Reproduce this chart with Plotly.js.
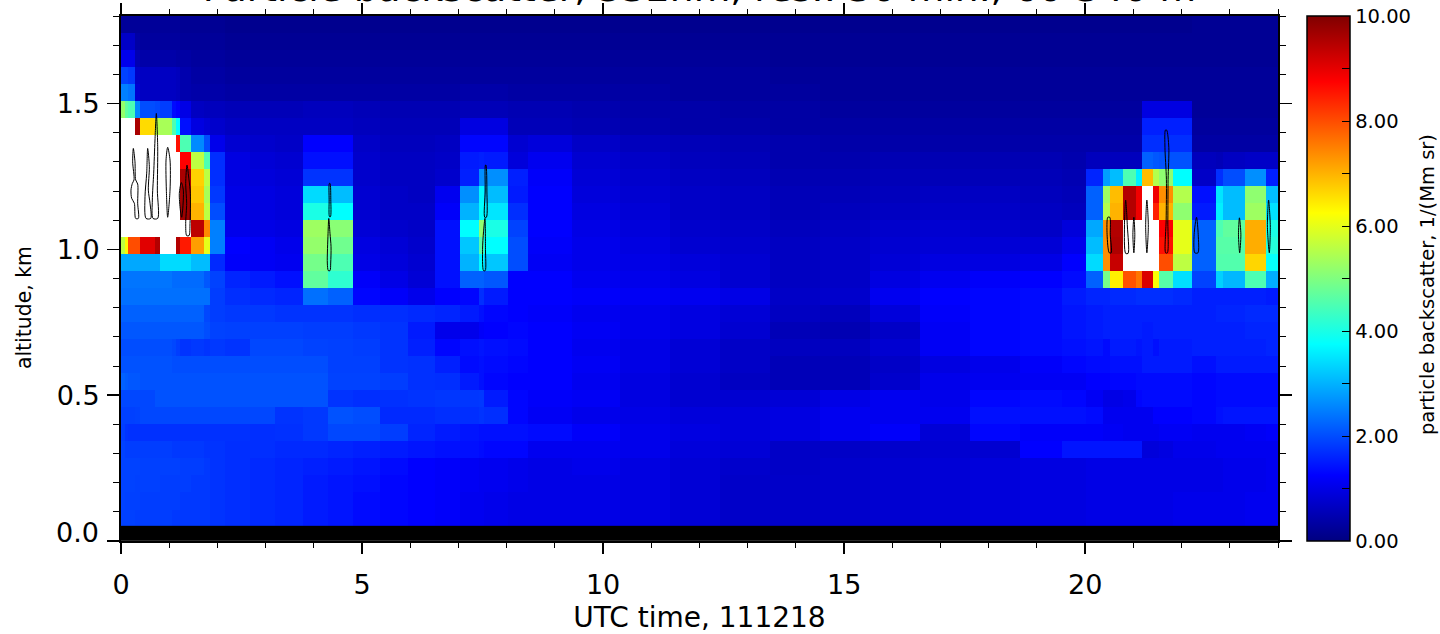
<!DOCTYPE html>
<html><head><meta charset="utf-8">
<script src="https://cdn.plot.ly/plotly-3.0.1.min.js"></script>
<style>html,body{margin:0;padding:0;background:#fff}#chart{width:1440px;height:634px}</style>
</head><body><div id="chart"></div>
<script>
var chartTitle = "Particle backscatter, 532nm, res.: 30 min., 60-340 m";
var xTitle = "UTC time, 111218";
var yTitle = "altitude, km";
var barTitle = "particle backscatter, 1/(Mm sr)";

// cell edges, UTC hours
var timeEdges = [0,.08,.15,.29,.39,.71,.81,1.06,1.14,1.22,1.45,1.72,1.85,2.16,2.68,3.2,3.78,4.29,4.81,5.37,5.95,6.51,7.03,7.43,7.53,8.03,8.44,9.36,10.35,11.39,12.43,13.46,14.5,15.54,16.58,17.61,18.65,19.52,20.02,20.37,20.52,20.79,21.06,21.18,21.41,21.54,21.83,22.22,22.72,22.86,23.32,23.76,24];
// cell edges, km
var altitudeEdges = [.05,.108,.167,.225,.283,.342,.4,.458,.517,.575,.633,.692,.75,.808,.867,.925,.983,1.042,1.1,1.158,1.217,1.275,1.333,1.392,1.45,1.508,1.567,1.625,1.683,1.742,1.8];
var n = null; // above colour range, drawn white

// one row per altitude, highest first; 52 values per row
var backscatterTopDown = [
[.25,.25,.25,.25,.25,.25,.25,.25,.25,.2,.2,.2,.2, .15,.15,.15,.15,.15,.15,.15,.15,.15,.15,.15,.15,.15,.15,.15,.15,.15,.15,.15,.15,.15,.15,.15,.15,.15, .15,.15,.15,.15,.15,.15,.15,.15,.15,.2,.2,.2,.2,.2],
[.7,.7,.7,.35,.3,.3,.3,.3,.3,.25,.25,.25,.25, .2,.2,.2,.2,.2,.2,.2,.2,.2,.2,.2,.2,.2,.2,.2,.2,.2,.2,.2,.2,.2,.2,.2,.2,.2, .2,.2,.2,.2,.2,.2,.2,.2,.2,.2,.2,.2,.2,.2],
[1.05,1.05,1.05,.5,.4,.4,.4,.4,.35,.35,.3,.3,.3, .25,.25,.25,.25,.25,.25,.25,.25,.25,.25,.25,.25,.25,.25,.25,.25,.25,.25,.2,.2,.2,.2,.2,.2,.2, .2,.2,.2,.2,.2,.2,.2,.2,.2,.2,.2,.2,.2,.2],
[1.9,1.9,1.8,.7,.65,.65,.65,.65,.6,.45,.35,.35,.35, .3,.3,.3,.3,.3,.3,.3,.3,.3,.3,.3,.3,.3,.3,.3,.3,.3,.3,.25,.25,.25,.25,.25,.25,.25, .25,.25,.25,.25,.25,.25,.25,.25,.25,.25,.25,.25,.25,.25],
[2.5,2.5,2.4,.8,.65,.65,.65,.65,.6,.45,.4,.4,.4, .35,.35,.35,.35,.35,.35,.35,.35,.35,.4,.4,.4,.35,.35,.35,.35,.3,.3,.3,.25,.25,.25,.25,.25,.25, .25,.25,.25,.25,.25,.25,.25,.25,.25,.25,.25,.25,.25,.25],
[5.2,4.7,4.5,2.6,2,1.95,1.85,1.35,1.25,1,.65,.6,.6, .55,.55,.55,.6,.6,.55,.5,.5,.5,.55,.55,.55,.5,.5,.45,.4,.4,.35,.35,.3,.3,.3,.3,.3,.3, .3,.3,.3,.3,.3,.95,.95,.95,.95,.25,.25,.25,.25,.25],
[n,n,n,9.6,6.6,5.5,5.4,4.5,3.75,1.4,.95,.85,.75, .65,.65,.65,.65,.65,.6,.55,.55,.55,.95,.95,.95,.55,.55,.5,.45,.4,.4,.35,.35,.35,.35,.35,.35,.35, .35,.35,.35,.35,.35,1.55,1.55,1.55,1.55,.3,.3,.3,.3,.3],
[n,n,n,n,n,n,n,n,8.6,4.5,2.6,2,1.05, .8,.75,.7,1.25,1.25,.7,.6,.6,.65,1.3,1.3,1.3,.8,.9,.7,.6,.55,.5,.45,.4,.4,.4,.4,.4,.4, .4,.4,.4,.4,.4,1.7,1.7,1.7,1.7,.35,.35,.35,.35,.35],
[n,n,n,n,n,n,n,n,n,8.75,5.6,4.5,1.7, .95,.85,.8,1.4,1.4,.75,.65,.65,.7,1.5,1.55,1.5,.9,1.1,.8,.7,.6,.55,.45,.45,.5,.5,.5,.5,.45, .6,.6,.6,.6,.6,2.2,2.1,2.05,2.05,.6,.55,.65,.7,.7],
[n,n,n,n,n,n,n,n,n,9.6,6.7,5.6,1.7, .95,.9,.85,1.75,1.75,.75,.65,.65,.75,1.55,2.65,2.65,1.55,1.2,.85,.75,.65,.6,.5,.5,.55,.55,.55,.55,.5, 1.6,2.8,3.1,4.5,3.6,6.9,5.5,5.15,3.75,.7,1.7,2,2.65,1.55],
[n,n,n,n,n,n,n,n,n,9.7,6.8,5.4,1.8, 1,.95,.9,3.4,3.1,.8,.7,.65,1.1,2.65,3.7,3.1,1.5,1.25,.9,.8,.7,.65,.55,.55,.6,.65,.65,.6,.55, 2.2,5.3,6.9,9.5,8.9,n,8.9,7.35,5.5,1.4,3.5,3.1,5.15,3.1],
[n,n,n,n,n,n,n,n,n,9.7,7,5.6,2, 1,.95,.9,4,3.75,.8,.7,.7,1.2,3,3.75,3.5,1.7,1.25,.95,.85,.7,.65,.55,.6,.65,.7,.7,.65,.6, 2.2,5.5,7,9.5,8.9,n,8.45,7,5.15,1.5,3.6,3.1,5.3,3.45],
[n,n,n,n,n,n,n,n,n,n,9.4,7.4,2.5, 1.05,1,.95,5.3,5.1,.85,.75,.7,1.4,3.75,5.15,4,1.9,1.25,1,.9,.75,.7,.6,.65,.75,.8,.75,.7,.9, 2.9,7.35,9.5,n,n,n,n,8.75,6,2.2,4.5,4.7,7.05,4],
[5.6,6.3,8,8,9.05,9.5,n,n,9.5,8.5,7.2,6,2.5, 1.25,1.15,1.05,5.2,4.85,.95,.85,.75,1.4,3.2,4.6,3.75,2,1.2,1.05,.95,.8,.75,.65,.7,.8,.85,.85,.85,1.05, 3.1,7.35,9.55,n,n,n,n,8.6,6,2.2,4.6,4.6,7.05,4.1],
[2.9,2.9,2.9,2.9,2.9,2.9,3.4,3.4,3.4,3.4,3.1,3.1,1.65, 1.2,1.15,1.1,4.9,4.5,1,.9,.8,1.4,3,3.75,3.2,2,1.15,1.05,1,.9,.8,.65,.7,.85,.95,.95,1,1.25, 3.4,7.35,9.3,n,n,n,n,8,5.6,2.2,4.55,4.55,6.65,3.8],
[2.4,2.4,2.4,2.4,2.4,2.4,2.4,2.3,2.3,2.3,2.3,2.1,1.9, 1.6,1.5,1.4,4.7,4.2,1.2,1,.85,1.4,2.2,2.2,2.1,1.25,1.25,1.1,1.05,.95,.8,.65,.7,.95,1.1,1.2,1.25,1.35, 2.2,4.9,6.4,7.95,7.6,9.1,6.2,4.6,3.45,1.9,3.3,3.05,4.5,2.95],
[2.35,2.35,2.35,2.35,2.35,2.35,2.35,2.35,2.35,2.35,2.35,2.35,1.85, 1.7,1.65,1.6,2.35,2.2,1.3,1.2,1.05,1.25,1.3,1.7,1.5,1.25,1.25,1.2,1.15,1.1,1,.7,.75,1.1,1.25,1.3,1.35,1.5, 1.6,1.6,1.65,1.65,1.7,1.7,1.7,1.7,1.65,1.55,1.55,1.55,1.55,1.5],
[2.2,2.2,2.2,2.2,2.2,2.2,2.2,2.2,2.2,2.2,2.2,1.95,1.85, 1.8,1.8,1.75,1.75,1.75,1.7,1.7,1.65,1.6,1.5,1.4,1.3,1.25,1.2,1.1,1.05,.95,.85,.65,.6,.9,1.2,1.3,1.35,1.45, 1.5,1.55,1.55,1.55,1.55,1.55,1.55,1.55,1.55,1.55,1.6,1.6,1.65,1.65],
[2.1,2.1,2.1,2.1,2.1,2.1,2.1,2.1,2.1,2.1,2.1,2,1.9, 1.88,1.88,1.88,1.85,1.85,1.8,1.75,1.5,1.05,1.05,1.2,1.25,1.3,1.25,1.15,1.05,.95,.8,.55,.5,.7,1.15,1.3,1.35,1.45, 1.5,1.55,1.55,1.55,1.55,1.5,1.55,1.55,1.55,1.55,1.55,1.55,1.6,1.6],
[2,2,2,2,2,2,2,1.95,1.85,1.75,1.8,1.75,1.8, 1.75,1.95,1.95,1.9,1.88,1.85,1.75,1.55,1.3,1.4,1.45,1.4,1.35,1.25,1.1,1,.85,.7,.63,.62,.8,1.15,1.3,1.35,1.4, 1.45,1.35,1.5,1.5,1.45,1.5,1.4,1.5,1.5,1.55,1.55,1.55,1.55,1.6],
[2.05,2.05,2.05,2.05,2.05,2.05,2.05,2,2,2,2,2,2, 2,2,2,2,1.88,1.88,1.75,1.72,1.55,1.35,1.4,1.35,1.3,1.25,1.15,1,.85,.7,.55,.55,.7,.95,1.05,1.2,1.3, 1.35,1.35,1.4,1.4,1.4,1.5,1.5,1.5,1.5,1.4,1.5,1.5,1.5,1.5],
[2.2,2.15,2.1,2.1,2.05,2.05,2.05,2.05,2.05,2.05,2.05,2.05,2.05, 2.05,2.05,2.05,2.05,1.9,1.9,1.85,1.72,1.7,1.5,1.4,1.3,1.25,1.25,1.1,.95,.8,.65,.55,.55,.75,1.05,1.1,1.15,1.15, 1.25,1.25,1.3,1.3,1.35,1.35,1.35,1.35,1.35,1.3,1.35,1.35,1.35,1.35],
[1.95,1.95,1.95,1.95,1.95,2.05,2.05,2.05,2.05,2.05,2.05,2.05,2.05, 2.05,2.05,2.05,2.05,1.75,1.7,1.72,1.75,1.78,1.78,1.8,1.5,1.3,1.2,1.15,.95,.8,.8,.85,1,1.1,1.05,1.3,1.35,1.3, 1.15,1,1,1.05,1.3,1.35,1.35,1.35,1.35,1.3,1.35,1.35,1.35,1.35],
[1.88,1.88,1.88,1.9,1.95,1.95,1.95,1.95,1.95,1.95,1.95,1.95,1.95, 1.95,1.95,1.75,1.8,2.05,2,1.65,1.65,1.7,1.7,1.75,1.7,1.3,1.15,1.05,1,.9,.9,.95,1.1,1.1,1.1,1.4,1.4,1.4, 1.35,1.1,1.1,1.1,1.1,1.1,1.25,1.25,1.25,1.3,1.4,1.45,1.45,1.45],
[1.85,1.75,1.72,1.72,1.72,1.72,1.72,1.72,1.72,1.72,1.72,1.72,1.72, 1.72,1.7,1.72,1.8,1.95,1.95,1.85,1.6,1.5,1.45,1.4,1.4,1.4,1.35,1.2,1.05,.95,.9,.95,1.1,1.2,.85,1.3,1.2,1.2, 1.2,1.15,1.15,1.1,1.1,1.1,1.1,1.15,1.15,1.1,1.1,1.1,1.15,1.2],
[1.9,1.85,1.85,1.85,1.85,1.85,1.85,1.8,1.8,1.8,1.8,1.75,1.75, 1.7,1.7,1.65,1.65,1.6,1.55,1.5,1.45,1.4,1.4,1.35,1.3,1.3,1.1,1.1,1.05,.9,.85,.7,.7,.75,.8,.8,1.25,1.45, 1.45,1.45,1.45,1.45,1.45,.9,.9,.95,1.05,1.05,1.1,1.1,1.1,1.1],
[1.9,1.9,1.9,1.9,1.88,1.88,1.88,1.88,1.88,1.85,1.85,1.8,1.75, 1.7,1.65,1.6,1.55,1.5,1.45,1.35,1.25,1.2,1.15,1.1,1.1,1.05,1,1.05,.95,.85,.75,.7,.75,.8,.85,.9,.95,.95, 1,1,1,1,1,1,1,1,1,1,1,1.05,1.05,1.1],
[1.9,1.9,1.9,1.88,1.88,1.88,1.85,1.85,1.85,1.85,1.8,1.8,1.75, 1.7,1.65,1.6,1.5,1.45,1.4,1.3,1.25,1.2,1.15,1.1,1.1,1.05,1,1,.95,.85,.72,.72,.75,.8,.85,.9,.95,.95, 1,1,1,1,1,1,1,1,1,1,1,1.05,1.05,1.1],
[1.9,1.88,1.88,1.88,1.85,1.85,1.85,1.85,1.85,1.8,1.8,1.8,1.75, 1.7,1.65,1.6,1.5,1.45,1.35,1.3,1.25,1.2,1.1,1.1,1.05,1,1,1,.95,.85,.72,.72,.75,.8,.85,.9,.95,.95, 1,1,1,1,1,1,1,1,1.05,1.05,1.05,1.05,1.1,1.1],
[1.88,1.88,1.88,1.85,1.85,1.85,1.85,1.8,1.8,1.8,1.8,1.8,1.75, 1.7,1.65,1.6,1.5,1.45,1.35,1.3,1.25,1.2,1.1,1.1,1.05,1,1,1,.95,.85,.72,.72,.75,.8,.85,.9,.95,.95, 1,1,1,1,1,1,1,1,1.05,1.05,1.05,1.05,1.1,1.1]
];
var backscatter = backscatterTopDown.slice().reverse();

// iso-lines, closed outlines separated by null
var contourHours = [.256,.29,.304,.346,.346,.36,.304,.277,.221,.207,.235,.27,.242,.256,null,
 .733,.761,.754,.761,.664,.65,.678,.705,.733,null,
 .553,.588,.567,.602,.616,.519,.498,.533,.553,null,
 .968,1.017,1.017,.968,.941,.934,.968,null,
 1.252,1.293,1.279,1.259,1.231,1.21,1.252,null,
 1.369,1.411,1.438,1.432,1.411,1.362,1.342,1.362,1.342,1.369,null,
 4.336,4.352,4.345,4.325,4.318,4.322,4.336,null,
 4.31,4.335,4.357,4.35,4.336,4.3,4.28,4.295,4.31,null,
 7.57,7.59,7.58,7.545,7.555,7.56,7.57,null,
 7.55,7.56,7.555,7.52,7.5,7.52,7.55,null,
 20.47,20.51,20.52,20.54,20.5,20.455,20.47,null,
 20.84,20.875,20.89,20.84,20.815,20.84,null,
 21.01,21.03,21.01,20.99,21.01,null,
 21.28,21.31,21.28,21.255,21.28,null,
 21.69,21.735,21.72,21.715,21.705,21.67,21.68,21.685,21.655,21.665,21.69,null,
 22.31,22.345,22.34,22.275,22.26,22.31,null,
 23.2,23.23,23.205,23.18,23.2,null,
 23.805,23.84,23.82,23.78,23.805];
var contourKm = [1.346,1.3,1.238,1.224,1.158,1.106,1.106,1.158,1.175,1.203,1.226,1.238,1.3,1.346,null,
 1.466,1.352,1.203,1.106,1.106,1.169,1.261,1.375,1.466,null,
 1.346,1.283,1.203,1.158,1.106,1.106,1.181,1.261,1.346,null,
 1.35,1.306,1.203,1.11,1.203,1.306,1.35,null,
 1.229,1.203,1.135,1.11,1.135,1.192,1.229,null,
 1.289,1.238,1.192,1.089,1.047,1.047,1.089,1.158,1.226,1.289,null,
 1.226,1.17,1.112,1.112,1.17,1.226,1.226,null,
 1.106,1.055,1.009,.953,.927,.927,.953,1.055,1.106,null,
 1.289,1.2,1.11,1.11,1.2,1.289,1.289,null,
 1.106,1,.927,.927,1,1.06,1.106,null,
 1.11,1.11,1.05,.988,.988,1.05,1.11,null,
 1.169,1.08,.986,.986,1.08,1.169,null,
 1.11,1.05,.988,1.05,1.11,null,
 1.169,1.08,.988,1.08,1.169,null,
 1.409,1.35,1.24,1.1,.988,.988,1.1,1.24,1.35,1.409,1.409,null,
 1.11,1.05,.988,.988,1.05,1.11,null,
 1.108,1.05,.988,1.05,1.108,null,
 1.169,1.08,.988,1.08,1.169];

// instrument blind zone near the ground
var groundHours = [0,24];
var groundKm = [0,.052];
var groundValue = [[1]];

var jet = [[0,'rgb(0,0,128)'],[.125,'rgb(0,0,255)'],[.375,'rgb(0,255,255)'],[.625,'rgb(255,255,0)'],[.875,'rgb(255,0,0)'],[1,'rgb(128,0,0)']];
var barTickVals = [0,1,2,3,4,5,6,7,8,9,10];
var barTickText = ['0.00','','2.00','','4.00','','6.00','','8.00','','10.00'];
var yTickVals = [0,.5,1,1.5];
var yTickText = ['','0.5','1.0','1.5'];
var yZeroLabel = '0.0';

var F = '"DejaVu Sans", sans-serif';
var traces = [
 {type:'heatmap',x:timeEdges,y:altitudeEdges,z:backscatter,zmin:0,zmax:10,zauto:false,colorscale:jet,hoverongaps:false,
  colorbar:{x:1.0251,xanchor:'left',xpad:0,y:0,yanchor:'bottom',ypad:0,len:525,lenmode:'pixels',thickness:43,thicknessmode:'pixels',
   outlinecolor:'#000',outlinewidth:1.5,ticks:'inside',ticklen:8,tickwidth:1,tickcolor:'#000',tickmode:'array',tickvals:barTickVals,ticktext:barTickText,
   tickfont:{family:F,size:19.5,color:'#000'}}},
 {type:'heatmap',x:groundHours,y:groundKm,z:groundValue,zmin:0,zmax:1,colorscale:[[0,'#000'],[1,'#000']],showscale:false,hoverinfo:'skip'},
 {type:'scatter',mode:'lines',x:contourHours,y:contourKm,line:{color:'#000',width:1,shape:'spline',smoothing:.8},connectgaps:false,hoverinfo:'skip',showlegend:false}
];
var layout = {
 width:1440,height:634,margin:{l:121,r:162,t:16,b:93,pad:0,autoexpand:false},paper_bgcolor:'#fff',plot_bgcolor:'#fff',showlegend:false,
 title:{text:chartTitle,font:{family:F,size:37.6,color:'#000'},x:.5,xref:'paper',xanchor:'center',y:.998,yanchor:'bottom',yref:'container',automargin:false},
 xaxis:{range:[0,24],tickmode:'linear',tick0:0,dtick:5,ticks:'outside',ticklen:11,tickwidth:1.5,tickcolor:'#000',showline:true,linecolor:'#000',linewidth:2,mirror:'ticks',showgrid:false,zeroline:false,
  minor:{dtick:1,ticks:'outside',ticklen:5,tickwidth:1,tickcolor:'#000',showgrid:false},
  ticklabelstandoff:8,tickfont:{family:F,size:27,color:'#000'},title:{text:xTitle,standoff:15,font:{family:F,size:28,color:'#000'}}},
 yaxis:{range:[0,1.8],tickmode:'array',tickvals:yTickVals,ticktext:yTickText,ticks:'outside',ticklen:12,tickwidth:1.5,tickcolor:'#000',showline:true,linecolor:'#000',linewidth:2,mirror:'ticks',showgrid:false,zeroline:false,
  minor:{dtick:.1,ticks:'outside',ticklen:6,tickwidth:1,tickcolor:'#000',showgrid:false},
  ticklabelstandoff:2,tickfont:{family:F,size:27,color:'#000'}},
 annotations:[
  {text:yZeroLabel,xref:'paper',yref:'y',x:0,y:0,xanchor:'right',yanchor:'middle',xshift:-20,yshift:9,showarrow:false,font:{family:F,size:27,color:'#000'}},
  {text:yTitle,xref:'paper',yref:'paper',x:-.0838,y:.4438,xanchor:'center',yanchor:'middle',textangle:-90,showarrow:false,font:{family:F,size:20.4,color:'#000'}},
  {text:barTitle,xref:'paper',yref:'paper',x:1.1288,y:.4876,xanchor:'center',yanchor:'middle',textangle:-90,showarrow:false,font:{family:F,size:19.5,color:'#000'}}
 ]
};
Plotly.newPlot('chart',traces,layout,{displayModeBar:false,staticPlot:true});
</script></body></html>
